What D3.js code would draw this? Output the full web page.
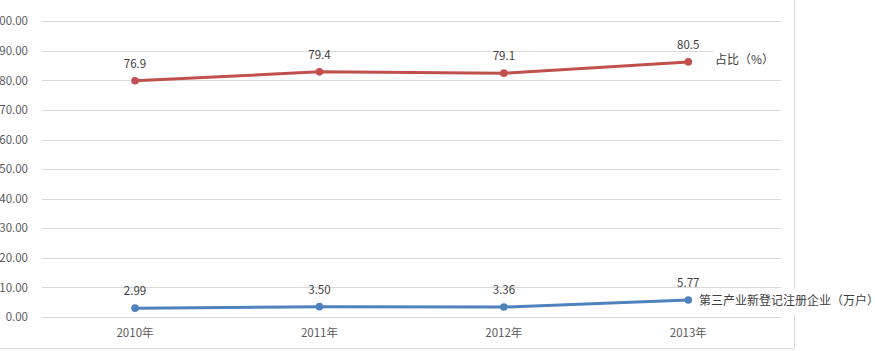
<!DOCTYPE html>
<html>
<head>
<meta charset="utf-8">
<script src="https://cdn.jsdelivr.net/npm/d3@7"></script>
<style>
  body { margin: 0; background: #fff; }
  text { font-family: "Noto Sans CJK SC", "Noto Sans", sans-serif; }
</style>
</head>
<body>
<svg id="chart" width="875" height="351"></svg>
<script>
// chart values
let years = ["2010年", "2011年", "2012年", "2013年"];
let newFirms = [2.99, 3.50, 3.36, 5.77];      // 第三产业新登记注册企业（万户）
let sharePct = [76.9, 79.4, 79.1, 80.5];      // 占比（%）, stacked on top of newFirms
let yTicks = [0, 10, 20, 30, 40, 50, 60, 70, 80, 90, 100];
let seriesNames = ["第三产业新登记注册企业（万户）", "占比（%）"];

let svg = d3.select("#chart");

let xScale = d3.scaleBand()
    .domain(years)
    .range([42.8, 780.5])
    .padding(0);

let yScale = d3.scaleLinear()
    .domain([0, 100])
    .range([317, 21.3]);

let cx = d => xScale(d) + xScale.bandwidth() / 2;

// gridlines
svg.append("g")
    .selectAll("line")
    .data(yTicks)
    .enter().append("line")
    .attr("x1", 42)
    .attr("x2", 781)
    .attr("y1", d => Math.round(yScale(d)) + 0.5)
    .attr("y2", d => Math.round(yScale(d)) + 0.5)
    .attr("stroke", "#d9d9d9")
    .attr("stroke-width", 1);

// y tick labels (the top one runs off the left edge, as in the original)
svg.append("g")
    .selectAll("text")
    .data(yTicks)
    .enter().append("text")
    .attr("x", 28)
    .attr("y", d => yScale(d))
    .attr("dy", "0.36em")
    .attr("text-anchor", "end")
    .attr("font-size", 11.5)
    .attr("fill", "#595959")
    .text(d => d.toFixed(2));

// x tick labels
svg.append("g")
    .selectAll("text")
    .data(years)
    .enter().append("text")
    .attr("x", d => cx(d))
    .attr("y", 332.5)
    .attr("dy", "0.36em")
    .attr("text-anchor", "middle")
    .attr("font-size", 11.5)
    .attr("fill", "#595959")
    .text(d => d);

// frame lines on the right and bottom
svg.append("line")
    .attr("x1", 794.5).attr("x2", 794.5)
    .attr("y1", 0).attr("y2", 348.5)
    .attr("stroke", "#d9d9d9");
svg.append("line")
    .attr("x1", 0).attr("x2", 794.5)
    .attr("y1", 348.5).attr("y2", 348.5)
    .attr("stroke", "#d9d9d9");

// stacked series
let stacked = years.map((y, i) => ({
    year: y,
    low: newFirms[i],
    high: newFirms[i] + sharePct[i],
    lowLabel: newFirms[i].toFixed(2),
    highLabel: sharePct[i].toFixed(1)
}));

let series = [
    {key: "low", label: "lowLabel", color: "#4f81bd"},
    {key: "high", label: "highLabel", color: "#c0504d"}
];

let line = key => d3.line()
    .x(d => cx(d.year))
    .y(d => yScale(d[key]));

series.forEach(function (s) {
    svg.append("path")
        .datum(stacked)
        .attr("d", line(s.key))
        .attr("fill", "none")
        .attr("stroke", s.color)
        .attr("stroke-width", 3)
        .attr("stroke-linejoin", "round");

    svg.append("g")
        .selectAll("circle")
        .data(stacked)
        .enter().append("circle")
        .attr("cx", d => cx(d.year))
        .attr("cy", d => yScale(d[s.key]))
        .attr("r", 3.8)
        .attr("fill", s.color);

    svg.append("g")
        .selectAll("text")
        .data(stacked)
        .enter().append("text")
        .attr("x", d => cx(d.year))
        .attr("y", d => yScale(d[s.key]) - 17)
        .attr("dy", "0.36em")
        .attr("text-anchor", "middle")
        .attr("font-size", 11.5)
        .attr("fill", "#404040")
        .text(d => d[s.label]);
});

// series name labels at the line ends
let last = stacked[stacked.length - 1];

let lowY = yScale(last.low);
svg.append("rect")
    .attr("x", 697).attr("y", 288)
    .attr("width", 178).attr("height", 26)
    .attr("fill", "#fff");
svg.append("text")
    .attr("x", 699)
    .attr("y", lowY + 1)
    .attr("dy", "0.36em")
    .attr("font-size", 12)
    .attr("fill", "#404040")
    .text(seriesNames[0]);

let highY = yScale(last.high);
svg.append("rect")
    .attr("x", 713).attr("y", 46)
    .attr("width", 78).attr("height", 26)
    .attr("fill", "#fff");
svg.append("text")
    .attr("x", 715)
    .attr("y", highY - 2)
    .attr("dy", "0.36em")
    .attr("font-size", 12)
    .attr("fill", "#404040")
    .text(seriesNames[1]);
</script>
</body>
</html>
